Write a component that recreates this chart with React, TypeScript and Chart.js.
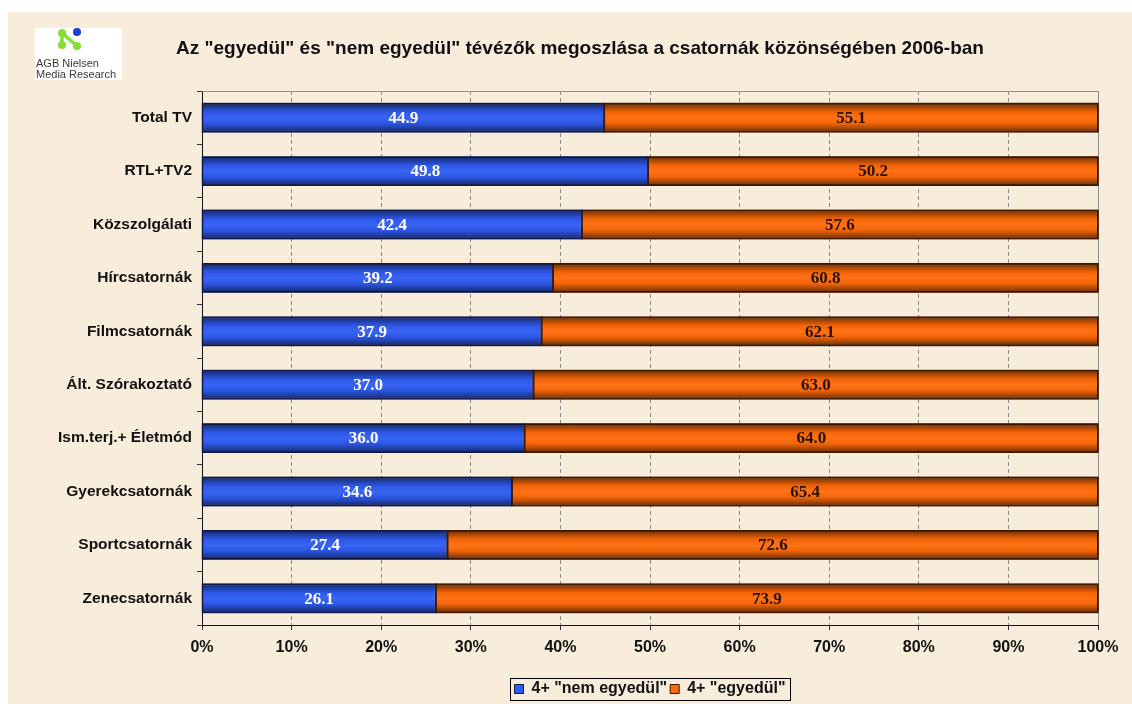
import React, { useEffect, useRef } from "react";
import { Chart, registerables } from "chart.js";

Chart.register(...registerables);

const TITLE = 'Az "egyedül" és "nem egyedül" tévézők megoszlása a csatornák közönségében 2006-ban';
const LOGO_LINES = ["AGB Nielsen", "Media Research"];

const categories = [
  "Total TV",
  "RTL+TV2",
  "Közszolgálati",
  "Hírcsatornák",
  "Filmcsatornák",
  "Ált. Szórakoztató",
  "Ism.terj.+ Életmód",
  "Gyerekcsatornák",
  "Sportcsatornák",
  "Zenecsatornák",
];

const seriesNames = ['4+ "nem egyedül"', '4+ "egyedül"'];
const nemEgyedul = [44.9, 49.8, 42.4, 39.2, 37.9, 37.0, 36.0, 34.6, 27.4, 26.1];
const egyedul = [55.1, 50.2, 57.6, 60.8, 62.1, 63.0, 64.0, 65.4, 72.6, 73.9];
const xTicks = [0, 10, 20, 30, 40, 50, 60, 70, 80, 90, 100];

const BG = "#F8ECDB";

const decorPlugin = {
  id: "decor",
  beforeDatasetsDraw(chart: any) {
    const { ctx, chartArea } = chart;
    ctx.save();
    ctx.strokeStyle = "#8f8f8f";
    ctx.lineWidth = 1;
    ctx.beginPath();
    ctx.moveTo(chartArea.left, chartArea.top + 0.5);
    ctx.lineTo(chartArea.right + 0.5, chartArea.top + 0.5);
    ctx.lineTo(chartArea.right + 0.5, chartArea.bottom);
    ctx.stroke();
    ctx.restore();
  },
  afterDatasetsDraw(chart: any) {
    const { ctx } = chart;
    ctx.save();
    chart.data.datasets.forEach((ds: any, di: number) => {
      const meta = chart.getDatasetMeta(di);
      meta.data.forEach((el: any) => {
        const top = el.y - el.height / 2;
        const h = el.height;
        const left = Math.min(el.x, el.base);
        const w = Math.abs(el.x - el.base);
        const g = ctx.createLinearGradient(0, top, 0, top + h);
        g.addColorStop(0, "rgba(0,0,0,0.55)");
        g.addColorStop(0.3, "rgba(0,0,0,0.05)");
        g.addColorStop(0.5, "rgba(255,255,255,0.05)");
        g.addColorStop(0.7, "rgba(0,0,0,0.05)");
        g.addColorStop(1, "rgba(0,0,0,0.55)");
        ctx.fillStyle = g;
        ctx.fillRect(left, top, w, h);
        ctx.strokeStyle = ds.borderColor;
        ctx.lineWidth = 1.5;
        ctx.strokeRect(left, top, w, h);
      });
    });
    ctx.textAlign = "center";
    ctx.textBaseline = "middle";
    ctx.font = "bold 17px 'Liberation Serif', serif";
    chart.data.datasets.forEach((ds: any, di: number) => {
      const meta = chart.getDatasetMeta(di);
      ctx.fillStyle = di === 0 ? "#ffffff" : "#2a1000";
      meta.data.forEach((el: any, i: number) => {
        const v = ds.data[i];
        ctx.fillText(Number(v).toFixed(1), (el.x + el.base) / 2, el.y + 1);
      });
    });
    ctx.restore();
  },
  afterDraw(chart: any) {
    const { ctx } = chart;
    ctx.save();
    ctx.fillStyle = "#111";
    ctx.font = "bold 19px 'Liberation Sans', Arial, sans-serif";
    ctx.textAlign = "center";
    ctx.textBaseline = "middle";
    ctx.fillText(TITLE, 572, 37);

    ctx.fillStyle = "#ffffff";
    ctx.fillRect(27, 16, 87, 52);
    ctx.strokeStyle = "#86dd3a";
    ctx.lineWidth = 3.5;
    ctx.lineCap = "round";
    ctx.beginPath();
    ctx.moveTo(54, 21);
    ctx.lineTo(54, 33);
    ctx.moveTo(54, 21);
    ctx.lineTo(69, 34);
    ctx.stroke();
    const dot = (x: number, y: number, c: string) => {
      ctx.fillStyle = c;
      ctx.beginPath();
      ctx.arc(x, y, 4, 0, Math.PI * 2);
      ctx.fill();
    };
    dot(54, 21, "#86dd3a");
    dot(54, 33, "#86dd3a");
    dot(69, 34, "#86dd3a");
    dot(69, 20, "#1c3fd6");
    ctx.fillStyle = "#3a3a3a";
    ctx.font = "11px 'Liberation Sans', Arial, sans-serif";
    ctx.textAlign = "left";
    ctx.textBaseline = "alphabetic";
    ctx.fillText(LOGO_LINES[0], 28, 55);
    ctx.fillText(LOGO_LINES[1], 28, 66);

    const lg = chart.legend;
    if (lg && lg.legendHitBoxes && lg.legendHitBoxes.length) {
      const hb = lg.legendHitBoxes;
      let l = Infinity, r = -Infinity, t = Infinity, b = -Infinity;
      hb.forEach((h: any) => {
        l = Math.min(l, h.left);
        r = Math.max(r, h.left + h.width);
        t = Math.min(t, h.top);
        b = Math.max(b, h.top + h.height);
      });
      ctx.strokeStyle = "#000";
      ctx.lineWidth = 1;
      ctx.strokeRect(Math.round(l - 5) + 0.5, Math.round(t - 3) + 0.5, Math.round(r - l + 9), Math.round(b - t + 6));
    }
    ctx.restore();
  },
};

export default function App() {
  const ref = useRef<HTMLCanvasElement | null>(null);
  useEffect(() => {
    if (!ref.current) return;
    const chart = new Chart(ref.current, {
      type: "bar",
      data: {
        labels: categories,
        datasets: [
          {
            label: seriesNames[0],
            data: nemEgyedul,
            backgroundColor: "#2f5cf2",
            borderColor: "#10184a",
            borderWidth: 1,
            barPercentage: 0.53,
            categoryPercentage: 1,
          },
          {
            label: seriesNames[1],
            data: egyedul,
            backgroundColor: "#ff6a08",
            borderColor: "#3e1800",
            borderWidth: 1,
            barPercentage: 0.53,
            categoryPercentage: 1,
          },
        ],
      },
      options: {
        indexAxis: "y",
        responsive: false,
        animation: false,
        devicePixelRatio: 1,
        layout: { padding: { top: 79, right: 34, left: 0, bottom: -3 } },
        scales: {
          x: {
            stacked: true,
            min: 0,
            max: 100,
            afterBuildTicks(scale: any) {
              scale.ticks = xTicks.map((v) => ({ value: v }));
            },
            afterFit(scale: any) {
              scale.height = 53;
            },
            ticks: {
              callback: (v: any) => v + "%",
              color: "#111",
              font: { family: "'Liberation Sans Narrow', 'Liberation Sans', sans-serif", size: 16, weight: "bold" },
              padding: 8,
              maxRotation: 0,
            },
            grid: {
              color: "#8c8c8c",
              tickColor: "#333",
              tickLength: 5,
              lineWidth: 1,
            },
            border: { color: "#111", width: 1, dash: [4, 3] },
          },
          y: {
            stacked: true,
            afterFit(scale: any) {
              scale.width = 194;
            },
            ticks: {
              color: "#111",
              font: { family: "'Liberation Sans', Arial, sans-serif", size: 15.5, weight: "bold" },
              padding: 5,
            },
            grid: {
              offset: true,
              drawOnChartArea: false,
              tickColor: "#333",
              tickLength: 5,
            },
            border: { color: "#111", width: 1 },
          },
        },
        plugins: {
          legend: {
            position: "bottom",
            fullSize: false,
            labels: {
              color: "#111",
              font: { family: "'Liberation Sans', Arial, sans-serif", size: 16, weight: "bold" },
              boxWidth: 9,
              boxHeight: 9,
              padding: 3,
            },
          },
          tooltip: { enabled: false },
        },
      },
      plugins: [decorPlugin],
    } as any);
    return () => chart.destroy();
  }, []);
  return (
    <div
      style={{
        position: "fixed",
        left: 8,
        top: 12,
        width: 1124,
        height: 692,
        background: BG,
      }}
    >
      <canvas ref={ref} width={1124} height={692} style={{ display: "block" }} />
    </div>
  );
}
